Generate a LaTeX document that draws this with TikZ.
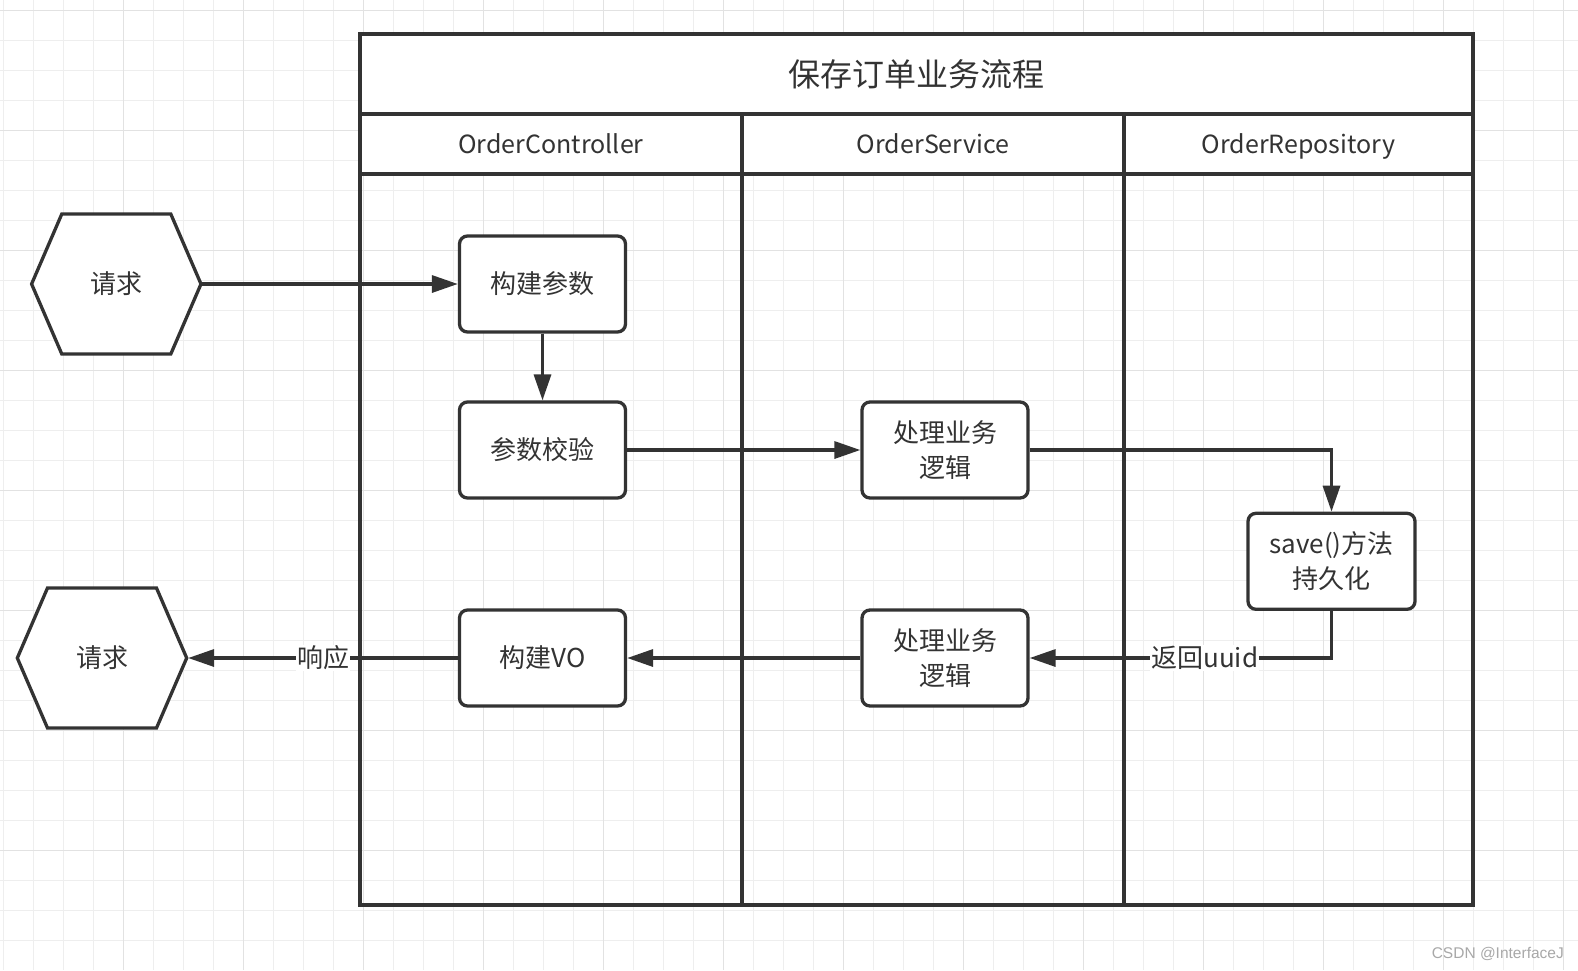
\documentclass[tikz,border=0pt]{standalone}
\usepackage{fontspec}
\setmainfont{Noto Sans CJK SC}
\newfontfamily\wmfont{Liberation Sans}
\usetikzlibrary{arrows.meta,calc}
\definecolor{ink}{HTML}{333333}
\definecolor{gridminor}{HTML}{EEEEEE}
\definecolor{gridmajor}{HTML}{E2E2E2}
\definecolor{wmgray}{HTML}{A8A8A8}
\tikzset{
  procbox/.style={draw=ink, line width=3.3pt, fill=white, rounded corners=8pt,
    minimum width=166pt, minimum height=96pt, inner sep=0pt, align=center,
    text=ink, font=\fontsize{26}{35}\selectfont},
  hextext/.style={minimum width=169pt, minimum height=140pt, inner sep=0pt,
    outer sep=1.65pt, text=ink, font=\fontsize{26}{35}\selectfont},
  hexline/.style={draw=ink, line width=3.3pt, fill=white, line join=miter},
  lanehead/.style={draw=ink, line width=3.3pt, fill=white, minimum height=60pt,
    inner sep=0pt, text height=22pt, text depth=3pt, text=ink,
    font=\fontsize{25}{30}\selectfont},
  pooltitle/.style={draw=ink, line width=3.3pt, fill=white, minimum width=1113pt,
    minimum height=80pt, inner sep=0pt, text=ink, font=\fontsize{32}{38}\selectfont},
  lanebody/.style={draw=ink, line width=3.3pt},
  conn/.style={draw=ink, line width=3.3pt, -{Triangle[length=26pt,width=17pt]}},
  edgelabel/.style={fill=white, inner sep=1pt, text=ink, font=\fontsize{26}{30}\selectfont},
}
\newcommand\hexagonnode[3]{%
  \coordinate (#1-c) at (#2);
  \draw[hexline] ($(#1-c)+(-54.5,-70)$) -- ($(#1-c)+(54.5,-70)$) -- ($(#1-c)+(84.7,0)$)
    -- ($(#1-c)+(54.5,70)$) -- ($(#1-c)+(-54.5,70)$) -- ($(#1-c)+(-84.7,0)$) -- cycle;
  \node[hextext] (#1) at (#1-c) {#3};
}
\begin{document}
\begin{tikzpicture}[x=1pt,y=-1pt]
\useasboundingbox (0,0) rectangle (1578,970);
\fill[white] (0,0) rectangle (1578,970);
% grid
\foreach \gx in {3.3,33.3,...,1578} \draw[gridminor, line width=1pt] (\gx,0) -- (\gx,970);
\foreach \gy in {10.7,40.7,...,970} \draw[gridminor, line width=1pt] (0,\gy) -- (1578,\gy);
\foreach \gx in {123.3,243.3,...,1578} \draw[gridmajor, line width=1pt] (\gx,0) -- (\gx,970);
\foreach \gy in {10.7,130.7,...,970} \draw[gridmajor, line width=1pt] (0,\gy) -- (1578,\gy);
% pool
\draw[lanebody] (360,174) rectangle (742,905);
\draw[lanebody] (742,174) rectangle (1124,905);
\draw[lanebody] (1124,174) rectangle (1473,905);
\node[pooltitle] (title) at (916.5,74) {保存订单业务流程};
\node[lanehead, minimum width=382pt] (h1) at (551,144) {OrderController};
\node[lanehead, minimum width=382pt] (h2) at (933,144) {OrderService};
\node[lanehead, minimum width=349pt] (h3) at (1298.5,144) {OrderRepository};
% shapes
\hexagonnode{req1}{116.3,284}{请求}
\hexagonnode{req2}{102,658}{请求}
\node[procbox] (b1) at (542.5,284) {构建参数};
\node[procbox] (b2) at (542.5,450) {参数校验};
\node[procbox] (b3) at (945,450) {处理业务\\逻辑};
\node[procbox, minimum width=167pt] (b4) at (1331.5,561.3) {save()方法\\持久化};
\node[procbox] (b5) at (945,658) {处理业务\\逻辑};
\node[procbox] (b6) at (542.5,658) {构建VO};
% connectors
\draw[conn] (req1.east) -- (b1.west);
\draw[conn] (b1.south) -- (b2.north);
\draw[conn] (b2.east) -- (b3.west);
\draw[conn] (b3.east) -| (b4.north);
\draw[conn] (b4.south) |- node[edgelabel, pos=0.71] {返回uuid} (b5.east);
\draw[conn] (b5.west) -- (b6.east);
\draw[conn] (b6.west) -- node[edgelabel] {响应} (req2.east);
% watermark
\node[anchor=east, inner sep=0pt, text=wmgray, font=\wmfont\fontsize{15.5}{18}\selectfont] (wm) at (1564,954) {CSDN @InterfaceJ};
\end{tikzpicture}
\end{document}
